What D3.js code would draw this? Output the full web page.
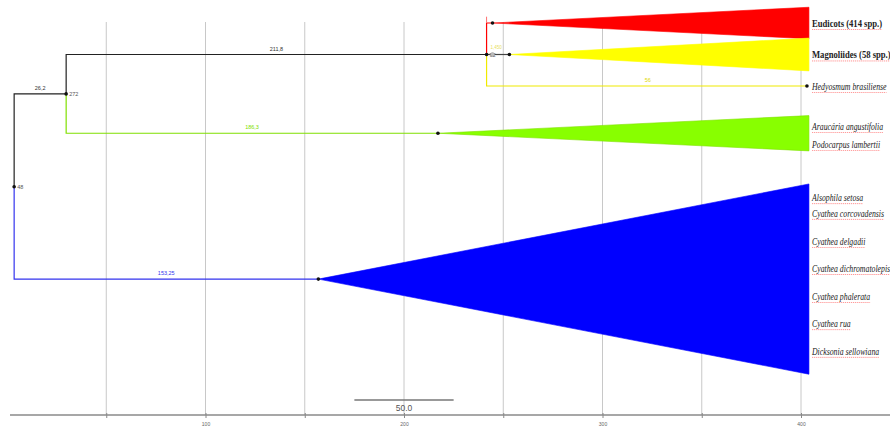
<!DOCTYPE html>
<html>
<script src="https://d3js.org/d3.v7.min.js"></script>

<head>
    <style>
        body {
            margin: 0;
            background-color: #ffffff;
            font-family: Arial, Helvetica, sans-serif;
        }

        svg {
            display: block;
        }
    </style>
</head>

<body>
    <div id="vis"></div>
</body>
<script>
    // time values on the axis, rows are the vertical order of the clades
    const axisTicks = [100, 200, 300, 400];
    const gridValues = [50, 100, 150, 200, 250, 300, 350, 400];
    const scaleBarLength = 50;
    const rootTime = 3.6;
    const tipTime = 404;

    // internal nodes: id, parent, branch length, row, branch label, node label, colour of the branch
    const nodes = [
        { id: "root", parent: null, length: 0, row: 5.2, label: "", nodeLabel: "48", color: "#222" },
        { id: "seed", parent: "root", length: 26.2, row: 2.25, label: "26,2", nodeLabel: "272", color: "#222" },
        { id: "angio", parent: "seed", length: 211.8, row: 1, label: "211,8", nodeLabel: "92", color: "#222" }
    ];

    // clades drawn as triangles: parent, stem length, centre row, half height in rows
    const clades = [
        { name: "Eudicots", parent: "angio", length: 3, row: 0, half: 0.5, color: "#ff0000", stroke: "#ff0000", label: "", fill: "#ff0000" },
        { name: "Magnoliids", parent: "angio", length: 11.5, row: 1, half: 0.52, color: "#777", stroke: "#ffff00", label: "", fill: "#ffff00" },
        { name: "Conifers", parent: "seed", length: 187.3, row: 3.5, half: 0.56, color: "#80e000", stroke: "#80e000", label: "186,3", fill: "#88ff00" },
        { name: "Ferns", parent: "root", length: 153.25, row: 8.13, half: 3.02, color: "#3333ee", stroke: "#0000ff", label: "153,25", fill: "#0000ff" }
    ];

    // single tips with a plain branch
    const singles = [
        { name: "Hedyosmum", parent: "angio", row: 2, label: "56", color: "#f0ea00" }
    ];

    // tip labels at the right: text, row, bold
    const tipLabels = [
        { text: "Eudicots (414 spp.)", row: 0.03, bold: true },
        { text: "Magnoliides (58 spp.)", row: 1.03, bold: true },
        { text: "Hedyosmum brasiliense", row: 2.03, bold: false },
        { text: "Araucária angustifolia", row: 3.3, bold: false },
        { text: "Podocarpus lambertii", row: 3.87, bold: false },
        { text: "Alsophila setosa", row: 5.56, bold: false },
        { text: "Cyathea corcovadensis", row: 6.06, bold: false },
        { text: "Cyathea delgadii", row: 6.95, bold: false },
        { text: "Cyathea dichromatolepis", row: 7.81, bold: false },
        { text: "Cyathea phalerata", row: 8.7, bold: false },
        { text: "Cyathea rua", row: 9.56, bold: false },
        { text: "Dicksonia sellowiana", row: 10.44, bold: false }
    ];

    const width = 890,
        height = 432;
    const svg = d3.select("#vis").append("svg").attr("width", width).attr("height", height);

    const x = d3.scaleLinear().domain([0, 400]).range([7, 801]);
    const y = d3.scaleLinear().domain([0, 1]).range([23, 54.5]);
    const axisY = 415;

    // node times
    const byId = {};
    nodes.forEach(n => {
        n.time = n.parent ? byId[n.parent].time + n.length : rootTime;
        byId[n.id] = n;
    });
    clades.forEach(c => c.time = byId[c.parent].time + c.length);

    // grid
    svg.append("g")
        .selectAll("line")
        .data(gridValues)
        .join("line")
        .attr("x1", d => x(d)).attr("x2", d => x(d))
        .attr("y1", 22).attr("y2", axisY)
        .attr("stroke", "#c8c8c8")
        .attr("stroke-width", 1);

    // axis
    const axis = d3.axisBottom(x)
        .tickValues(gridValues)
        .tickSize(3)
        .tickFormat(d => axisTicks.includes(d) ? d : "");
    const axisG = svg.append("g")
        .attr("transform", `translate(0,${axisY})`)
        .call(axis);
    axisG.select(".domain").remove();
    axisG.append("line")
        .attr("x1", 10).attr("x2", width)
        .attr("stroke", "#8a8a8a").attr("stroke-width", 1.5);
    axisG.selectAll(".tick line").attr("stroke", "#888").attr("y1", -2);
    axisG.selectAll(".tick text")
        .attr("fill", "#666")
        .attr("font-size", 5)
        .attr("dy", "0.9em");

    // scale bar
    const barStart = 175;
    svg.append("line")
        .attr("x1", x(barStart)).attr("x2", x(barStart + scaleBarLength))
        .attr("y1", 400).attr("y2", 400)
        .attr("stroke", "#777").attr("stroke-width", 1.3);
    svg.append("text")
        .attr("x", x(barStart + scaleBarLength / 2))
        .attr("y", 411)
        .attr("text-anchor", "middle")
        .attr("font-size", 8.5)
        .attr("fill", "#555")
        .text(scaleBarLength.toFixed(1));

    const tree = svg.append("g").attr("fill", "none");

    // branches of internal nodes (horizontal + vertical from parent)
    function branch(parent, time, row, color) {
        tree.append("path")
            .attr("d", `M${x(parent.time)},${y(parent.row)}V${y(row)}H${x(time)}`)
            .attr("stroke", color)
            .attr("stroke-width", 1.2);
    }
    nodes.filter(n => n.parent).forEach(n => branch(byId[n.parent], n.time, n.row, n.color));
    clades.forEach(c => branch(byId[c.parent], c.time, c.row, c.color === "#777" ? "#444" : c.color));
    singles.forEach(s => branch(byId[s.parent], tipTime - 0.5, s.row, s.color));

    // triangles
    svg.append("g")
        .selectAll("path")
        .data(clades)
        .join("path")
        .attr("d", c => `M${x(c.time)},${y(c.row)}L${x(tipTime)},${y(c.row - c.half)}L${x(tipTime)},${y(c.row + c.half)}Z`)
        .attr("fill", c => c.fill)
        .attr("stroke", c => c.stroke)
        .attr("stroke-width", 0.6);

    // dots
    const dots = nodes.map(n => [n.time, n.row])
        .concat(clades.map(c => [c.time, c.row]))
        .concat(singles.map(s => [tipTime - 1, s.row]));
    svg.append("g")
        .selectAll("circle")
        .data(dots)
        .join("circle")
        .attr("cx", d => x(d[0]))
        .attr("cy", d => y(d[1]))
        .attr("r", 1.8)
        .attr("fill", "#111");

    // branch length labels
    const branchLabels = nodes.filter(n => n.parent).map(n => ({ t0: byId[n.parent].time, t1: n.time, row: n.row, text: n.label, color: "#333" }))
        .concat(clades.filter(c => c.label).map(c => ({ t0: byId[c.parent].time, t1: c.time, row: c.row, text: c.label, color: c.color })))
        .concat(singles.map(s => ({ t0: byId[s.parent].time, t1: tipTime, row: s.row, text: s.label, color: "#e0d800" })));
    svg.append("g")
        .selectAll("text")
        .data(branchLabels)
        .join("text")
        .attr("x", d => x((d.t0 + d.t1) / 2))
        .attr("y", d => y(d.row) - 4)
        .attr("text-anchor", "middle")
        .attr("font-size", 5.5)
        .attr("fill", d => d.color)
        .text(d => d.text);

    // node labels
    svg.append("g")
        .selectAll("text")
        .data(nodes)
        .join("text")
        .attr("x", d => x(d.time) + 3)
        .attr("y", d => y(d.row) + 2)
        .attr("font-size", 5.5)
        .attr("fill", "#555")
        .text(d => d.nodeLabel);

    // small yellow label on the magnoliid stem and red tick on the eudicot stem
    svg.append("text")
        .attr("x", x(byId.angio.time) + 4).attr("y", y(1) - 6)
        .attr("font-size", 4.5).attr("fill", "#e8e060")
        .text("1,450");
    svg.append("circle")
        .attr("cx", x(byId.angio.time + 3)).attr("cy", y(1))
        .attr("r", 2).attr("fill", "#bbb").attr("stroke", "#999").attr("stroke-width", 0.5);
    svg.append("line")
        .attr("x1", x(byId.angio.time)).attr("x2", x(byId.angio.time))
        .attr("y1", y(-0.2)).attr("y2", y(0))
        .attr("stroke", "#ff7070").attr("stroke-width", 1);

    // tip labels, slightly condensed serif as in the original
    const labelX = 812;
    const labels = svg.append("g")
        .attr("transform", `translate(${labelX},0) scale(0.82,1)`);
    const labelText = labels.selectAll("text")
        .data(tipLabels)
        .join("text")
        .attr("x", 0)
        .attr("y", d => y(d.row) + 3)
        .attr("font-family", "'Liberation Serif', 'DejaVu Serif', serif")
        .attr("font-size", d => d.bold ? 10.5 : 9.5)
        .attr("font-weight", d => d.bold ? "bold" : "normal")
        .attr("font-style", d => d.bold ? "normal" : "italic")
        .attr("fill", "#222")
        .text(d => d.text);
    // red spell-check underlines
    labelText.each(function (d) {
        const w = this.getComputedTextLength();
        labels.append("line")
            .attr("x1", 0).attr("x2", w)
            .attr("y1", y(d.row) + 5.5).attr("y2", y(d.row) + 5.5)
            .attr("stroke", "#ff3030")
            .attr("stroke-width", 0.8)
            .attr("stroke-dasharray", "1.5,1")
            .attr("opacity", 0.7);
    });
</script>

</html>
